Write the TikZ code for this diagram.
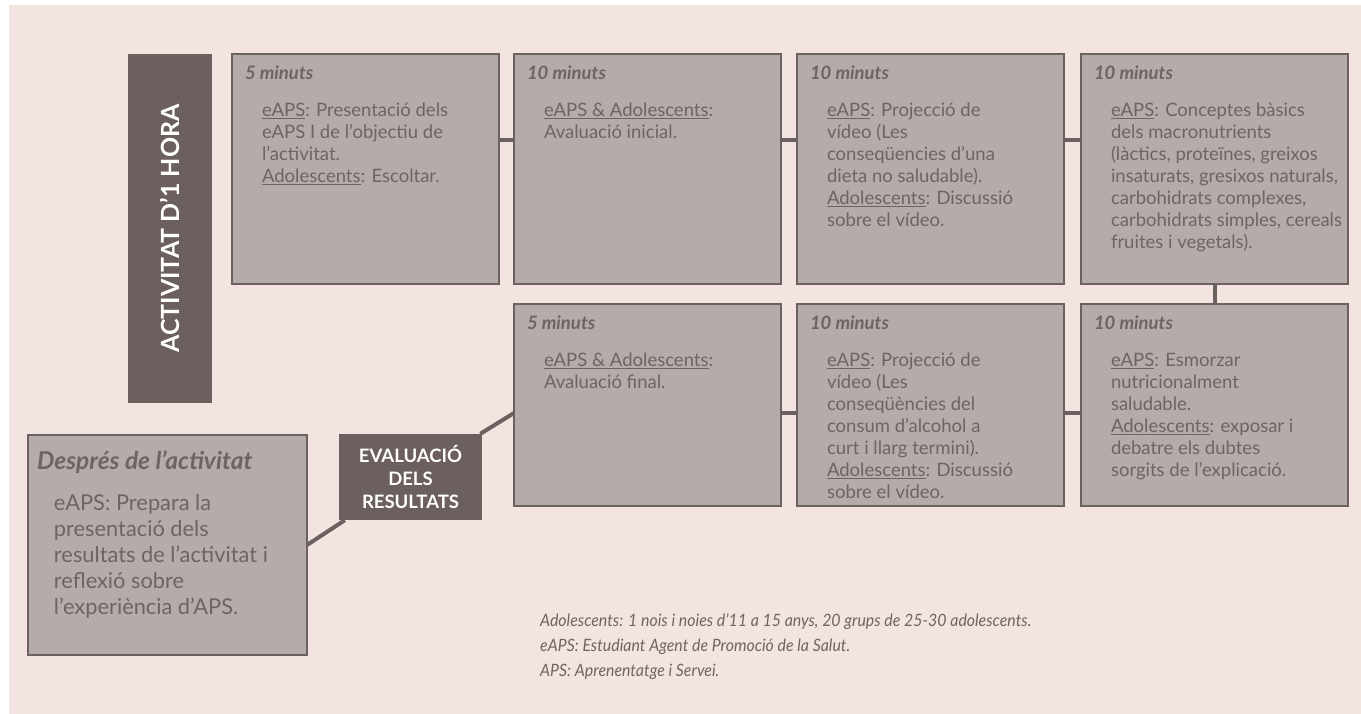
\documentclass[tikz,border=0pt]{standalone}
\usepackage{fontspec}
\setmainfont{Lato}
\newfontfamily\notafont{Lato}[FakeStretch=0.935]
\usetikzlibrary{positioning}
\definecolor{fons}{HTML}{F3E4E1}
\definecolor{gris}{HTML}{B5ACAA}
\definecolor{vora}{HTML}{6B615E}
\definecolor{fosc}{HTML}{6B605D}
\definecolor{lletra}{HTML}{6E6461}
\tikzset{caixa/.style={draw=vora, line width=2.5pt, fill=gris, text=lletra, inner ysep=0pt, inner xsep=13pt, outer sep=0pt, minimum width=267pt},
	enllac/.style={draw=vora, line width=4pt}}
\newcommand{\caixa}[3][230pt]{\parbox[c][#1][t]{241pt}{\vspace*{12pt}{\fontsize{18.5}{22}\selectfont\bfseries\itshape #2\par}\vspace{15pt}\leftskip=17pt\rightskip=-40pt plus 1fil\fontsize{18.5}{22}\selectfont #3\par}}

\begin{document}
\begin{tikzpicture}[x=1pt,y=-1pt,
	barra/.style={fill=fosc, text=white, minimum width=349pt, minimum height=84pt, font=\fontsize{25}{30}\selectfont\bfseries},
	aval/.style={fill=fosc, text=white, minimum width=143pt, minimum height=86pt, inner sep=0pt, align=center, font=\fontsize{18.5}{23}\selectfont\bfseries},
	nota/.style={text=lletra, align=left, inner sep=0pt, font=\notafont\fontsize{17}{25}\selectfont\itshape}]
	\fill[fons] (9,5) rectangle (1361,714);
	\useasboundingbox (0,0) rectangle (1361,714);
	
	\node[barra, rotate=90] (barra) at (170,228.5) {ACTIVITAT D’1 HORA};
	
	\node[caixa, anchor=north west] (b1) at (232,54) {\caixa{5 minuts}{\underline{eAPS}: Presentació dels\\eAPS I de l’objectiu de\\l’activitat.\\\underline{Adolescents}: Escoltar.}};
	\node[caixa, right=15pt of b1] (b2) {\caixa{10 minuts}{\underline{eAPS \& Adolescents}:\\Avaluació inicial.}};
	\node[caixa, right=16pt of b2] (b3) {\caixa{10 minuts}{\underline{eAPS}: Projecció de\\vídeo (Les\\conseqüencies d’una\\dieta no saludable).\\\underline{Adolescents}: Discussió\\sobre el vídeo.}};
	\node[caixa, right=17pt of b3] (b4) {\caixa{10 minuts}{\underline{eAPS}: Conceptes bàsics\\dels macronutrients\\(làctics, proteïnes, greixos\\insaturats, gresixos naturals,\\carbohidrats complexes,\\carbohidrats simples, cereals\\fruites i vegetals).}};
	
	\node[caixa, below=20pt of b2] (b5) {\caixa[202pt]{5 minuts}{\underline{eAPS \& Adolescents}:\\Avaluació final.}};
	\node[caixa, below=20pt of b3] (b6) {\caixa[202pt]{10 minuts}{\underline{eAPS}: Projecció de\\vídeo (Les\\conseqüències del\\consum d’alcohol a\\curt i llarg termini).\\\underline{Adolescents}: Discussió\\sobre el vídeo.}};
	\node[caixa, below=20pt of b4] (b7) {\caixa[202pt]{10 minuts}{\underline{eAPS}: Esmorzar\\nutricionalment\\saludable.\\\underline{Adolescents}: exposar i\\debatre els dubtes\\sorgits de l’explicació.}};
	
	\node[caixa, anchor=north west, minimum width=279pt, inner xsep=9pt] (desp) at (28,435) {\parbox[c][220pt][t]{261pt}{\vspace*{16pt}{\fontsize{24.5}{28}\selectfont\bfseries\itshape Després de l’activitat\par}\vspace{15pt}\leftskip=17pt\fontsize{21.8}{26}\selectfont eAPS: Prepara la\\presentació dels\\resultats de l’activitat i\\reflexió sobre\\l’experiència d’APS.\par}};
	\node[aval] (ev) at (410.5,477) {EVALUACIÓ\\DELS\\RESULTATS};
	
	\node[nota, anchor=north west] (nota) at (540,614) {Adolescents: 1 nois i noies d’11 a 15 anys, 20 grups de 25-30 adolescents.\\eAPS: Estudiant Agent de Promoció de la Salut.\\APS: Aprenentatge i Servei.};
	
	\foreach \a/\b in {b1/b2,b2/b3,b3/b4}
	\draw[enllac] ([yshift=-86pt]\a.north east) -- ([yshift=-86pt]\b.north west);
	\foreach \a/\b in {b5/b6,b6/b7}
	\draw[enllac] ([yshift=-109pt]\a.north east) -- ([yshift=-109pt]\b.north west);
	\draw[enllac] (b4.south) -- (b7.north);
	\draw[enllac] (desp.east) -- (ev) -- ([yshift=-109pt]b5.north west);
\end{tikzpicture}
\end{document}
